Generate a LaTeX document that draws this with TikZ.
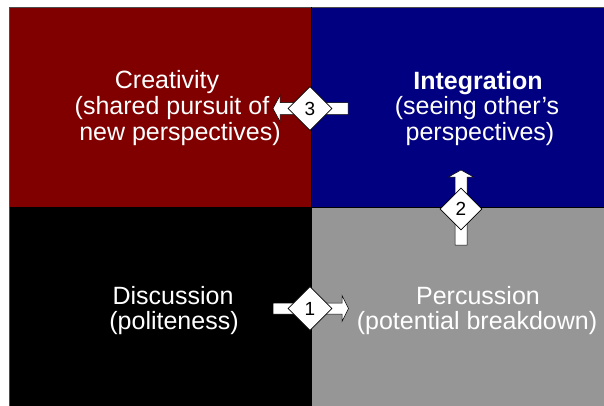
\documentclass[tikz,border=0pt]{standalone}
\usepackage{fontspec}
\setmainfont{Liberation Sans}
\usetikzlibrary{shapes.geometric,calc}
\definecolor{quadred}{HTML}{800000}
\definecolor{quadblue}{HTML}{000080}
\definecolor{quadgray}{HTML}{969696}
\tikzset{
  quad/.style={draw=black!70, line width=0.6pt},
  label/.style={text=white, anchor=base, inner sep=0pt, font=\fontsize{25}{25.5}\selectfont},
  stepmark/.style={diamond, draw=black, line width=0.6pt, fill=white, aspect=1,
    minimum width=44pt, minimum height=44pt, inner sep=0pt,
    font=\fontsize{19}{19}\selectfont},
  blockarrow/.style={fill=white, draw=black, line width=0.5pt, line join=miter},
}
\begin{document}
\begin{tikzpicture}[x=1pt,y=-1pt]
\useasboundingbox (0,0) rectangle (604,405);
% four quadrants
\fill[quadred]  (9.5,7)   rectangle (311,207);
\fill[quadblue] (311,7)   rectangle (606,207);
\fill[black]    (9.5,207) rectangle (311,407);
\fill[quadgray] (311,207) rectangle (606,407);
\draw[quad] (606,7) -- (9.5,7) -- (9.5,407);
\draw[black, line width=0.5pt] (311,7) -- (311,407);
\draw[black, line width=0.5pt] (9.5,207) -- (606,207);

% quadrant texts
\node[label] (cre1) at (167,88)  {Creativity};
\node[label] (cre2) at (172,114) {(shared pursuit of};
\node[label] (cre3) at (180,140) {new perspectives)};
\node[label, font=\fontsize{25}{25.5}\selectfont\bfseries] (int1) at (478,89) {Integration};
\node[label] (int2) at (477,114.5) {(seeing other’s};
\node[label] (int3) at (480,140) {perspectives)};
\node[label] (dis1) at (173,304) {Discussion};
\node[label] (dis2) at (174,329) {(politeness)};
\node[label] (per1) at (478,304) {Percussion};
\node[label] (per2) at (477,329) {(potential breakdown)};

% step 3: block arrow pointing left
\coordinate (s3) at (310,108.5);
\draw[blockarrow] ($(s3)+(38,-6)$) -- ($(s3)+(-30,-6)$) -- ($(s3)+(-30,-13)$)
  -- ($(s3)+(-37,0)$) -- ($(s3)+(-30,13)$) -- ($(s3)+(-30,6)$)
  -- ($(s3)+(38,6)$) -- cycle;
\node[stepmark] (d3) at (s3) {3};

% step 2: block arrow pointing up
\coordinate (s2) at (461,209);
\draw[blockarrow] ($(s2)+(-6,36)$) -- ($(s2)+(-6,-32)$) -- ($(s2)+(-12.5,-32)$)
  -- ($(s2)+(0,-39)$) -- ($(s2)+(12.5,-32)$) -- ($(s2)+(6,-32)$)
  -- ($(s2)+(6,36)$) -- cycle;
\node[stepmark, minimum width=42pt, minimum height=42pt] (d2) at (s2) {2};

% step 1: block arrow pointing right
\coordinate (s1) at (310,308.5);
\draw[blockarrow] ($(s1)+(-37,-5.5)$) -- ($(s1)+(32,-5.5)$) -- ($(s1)+(32,-13)$)
  -- ($(s1)+(38.5,0)$) -- ($(s1)+(32,13)$) -- ($(s1)+(32,5.5)$)
  -- ($(s1)+(-37,5.5)$) -- cycle;
\node[stepmark] (d1) at (s1) {1};
\end{tikzpicture}
\end{document}
